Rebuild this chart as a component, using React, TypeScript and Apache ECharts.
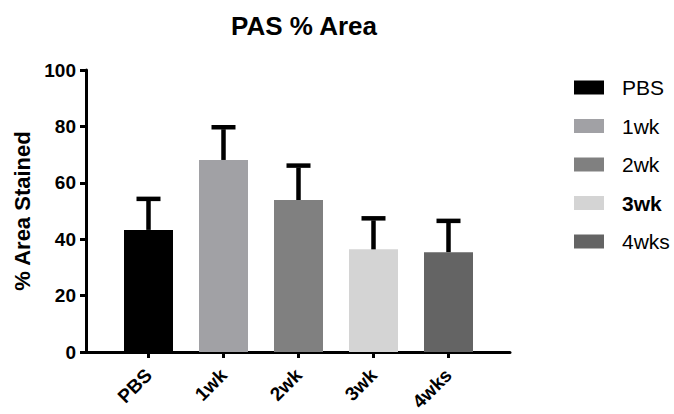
import React, { useEffect, useRef } from "react";
import * as echarts from "echarts";

const categories = ["PBS", "1wk", "2wk", "3wk", "4wks"];
const means = [43.3, 68.1, 53.9, 36.4, 35.4];
const errors = [11.0, 11.6, 12.2, 11.0, 11.1];
const colors = ["#000000", "#a1a1a5", "#808080", "#d4d4d4", "#646464"];
const yTicks = [0, 20, 40, 60, 80, 100];

const FONT = "'Liberation Sans', Arial, Helvetica, sans-serif";

export default function App() {
  const ref = useRef<HTMLDivElement>(null);
  useEffect(() => {
    if (!ref.current) return;
    const chart = echarts.init(ref.current, null, { renderer: "svg" });
    const barSeries = categories.map((name, i) => ({
      name,
      type: "bar",
      stack: "all",
      xAxisIndex: 0,
      yAxisIndex: 0,
      barWidth: 49,
      itemStyle: { color: colors[i] },
      data: categories.map((_, j) => (j === i ? means[i] : "-")),
      z: 2,
    }));
    const errData = categories.map((_, i) => [i, means[i], errors[i]]);
    const option: any = {
      animation: false,
      backgroundColor: "#ffffff",
      textStyle: { fontFamily: FONT },
      title: {
        text: "PAS % Area",
        left: 299,
        textAlign: "center",
        top: 8,
        textStyle: { fontFamily: FONT, fontSize: 26, fontWeight: "bold", color: "#000" },
      },
      legend: {
        orient: "vertical",
        left: 569,
        top: 72,
        itemWidth: 30,
        itemHeight: 14,
        itemGap: 17.5,
        icon: "rect",
        data: categories,
        formatter: (n: string) => (n === "3wk" ? "{b|" + n + "}" : n),
        textStyle: {
          fontFamily: FONT,
          fontSize: 21,
          color: "#000",
          padding: [0, 0, 0, 13],
          rich: { b: { fontFamily: FONT, fontSize: 21, fontWeight: "bold", color: "#000" } },
        },
      },
      grid: [
        { left: 111, width: 375, top: 70, height: 282 },
        { left: 86, width: 424, top: 70, height: 282 },
      ],
      xAxis: [
        {
          type: "category",
          gridIndex: 0,
          data: categories,
          axisLine: { show: false },
          axisTick: { show: true, alignWithLabel: true, length: 6, lineStyle: { color: "#000", width: 3 } },
          axisLabel: {
            rotate: 45,
            margin: 20,
            fontFamily: FONT,
            fontSize: 19,
            fontWeight: "bold",
            color: "#000",
          },
        },
        {
          type: "value",
          gridIndex: 1,
          min: 0,
          max: 1,
          axisLine: { show: true, lineStyle: { color: "#000", width: 3 } },
          axisTick: { show: false },
          axisLabel: { show: false },
          splitLine: { show: false },
        },
      ],
      yAxis: [
        {
          type: "value",
          gridIndex: 0,
          min: 0,
          max: 100,
          interval: 20,
          offset: 25,
          name: "% Area Stained",
          nameLocation: "middle",
          nameRotate: 90,
          nameGap: 52,
          nameTextStyle: { fontFamily: FONT, fontSize: 22, fontWeight: "bold", color: "#000" },
          axisLine: { show: true, lineStyle: { color: "#000", width: 3 } },
          axisTick: { show: true, length: 6, lineStyle: { color: "#000", width: 3 } },
          axisLabel: {
            margin: 10,
            fontFamily: FONT,
            fontSize: 19,
            fontWeight: "bold",
            color: "#000",
            customValues: yTicks,
          },
          splitLine: { show: false },
        },
        {
          type: "value",
          gridIndex: 1,
          min: 0,
          max: 1,
          show: false,
        },
      ],
      series: [
        ...barSeries,
        {
          type: "custom",
          name: "err",
          xAxisIndex: 0,
          yAxisIndex: 0,
          data: errData,
          z: 3,
          renderItem: (params: any, api: any) => {
            const x = api.value(0);
            const m = api.value(1);
            const e = api.value(2);
            const base = api.coord([x, m]);
            const top = api.coord([x, m + e]);
            const half = 12;
            return {
              type: "group",
              children: [
                {
                  type: "line",
                  shape: { x1: base[0], y1: base[1], x2: top[0], y2: top[1] + 2 },
                  style: { stroke: "#000", lineWidth: 4.5 },
                },
                {
                  type: "line",
                  shape: { x1: top[0] - half, y1: top[1], x2: top[0] + half, y2: top[1] },
                  style: { stroke: "#000", lineWidth: 4.5 },
                },
              ],
            };
          },
        },
      ],
    };
    chart.setOption(option);
    return () => chart.dispose();
  }, []);
  return (
    <div
      ref={ref}
      style={{ position: "fixed", left: 0, top: 0, width: 674, height: 414, background: "#fff" }}
    />
  );
}
